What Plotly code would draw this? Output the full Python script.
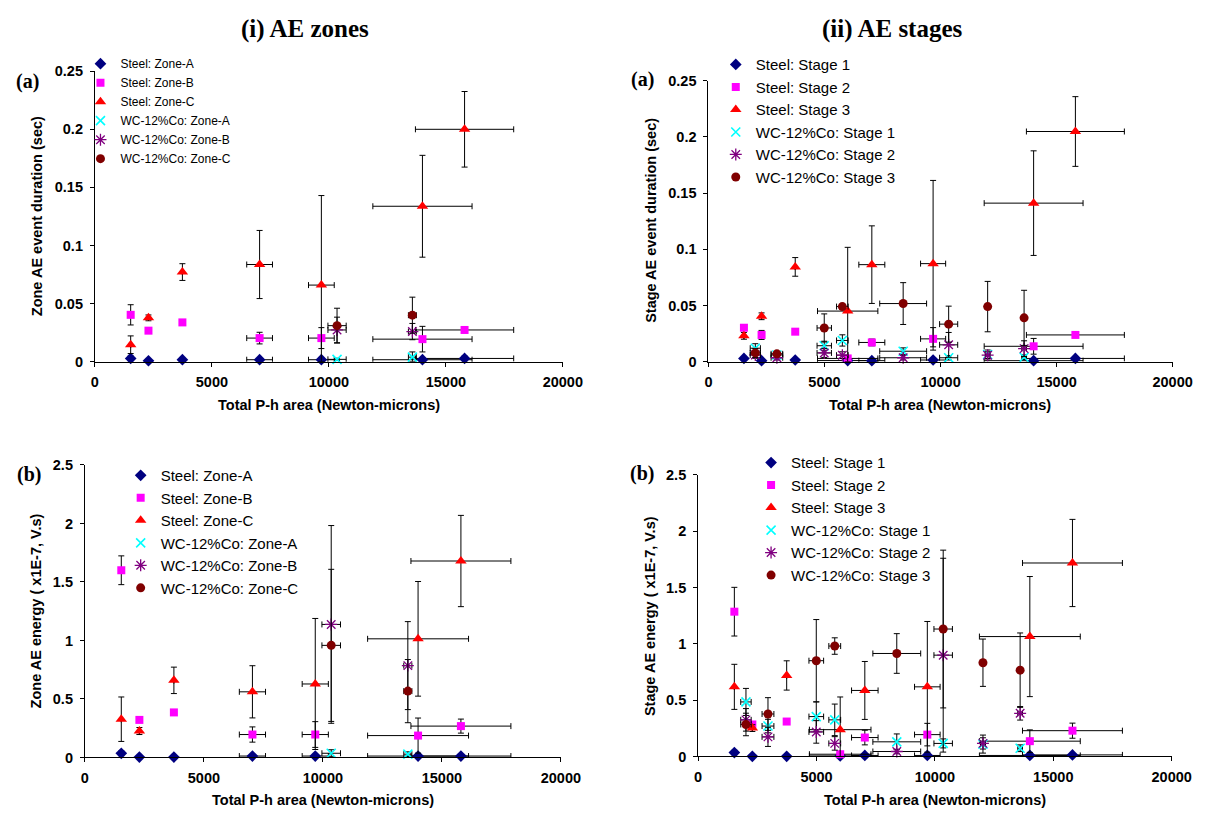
import numpy as np
import plotly.graph_objects as go

# ---------------- data ----------------
# Steel tests (zone analysis)
steel_x_zone = [1530, 2290, 3740, 7040, 9680, 14000, 15800]
steel_xerr_zone = [0, 0, 0, 550, 550, 2120, 2100]
# WC-12%Co tests (zone analysis)
wc_x_zone = [10350, 13570]
wc_xerr_zone = [390, 170]

# (i)(a) zone AE event duration (sec)
dur_steel_A = [0.0028, 0.0008, 0.0017, 0.0017, 0.0017, 0.0017, 0.0028]
dur_steel_A_err = [0.002, 0.001, 0.001, 0.001, 0.001, 0.001, 0.002]
dur_steel_B = [0.0403, 0.0267, 0.0338, 0.0203, 0.0203, 0.0194, 0.0273]
dur_steel_B_err = [0.0087, 0.001, 0.001, 0.005, 0.009, 0.011, 0.002]
dur_steel_C = [0.0146, 0.0377, 0.0771, 0.0836, 0.0659, 0.1337, 0.1999]
dur_steel_C_err = [0.0076, 0.0025, 0.0072, 0.0293, 0.077, 0.0438, 0.0325]
dur_wc_A = [0.0020, 0.0039]
dur_wc_A_err = [0.001, 0.0045]
dur_wc_B = [0.0273, 0.0259]
dur_wc_B_err = [0.011, 0.007]
dur_wc_C = [0.031, 0.040]
dur_wc_C_err = [0.015, 0.0155]

# (i)(b) zone AE energy (x1E-7 V.s)
en_steel_A = [0.035, 0.003, 0.003, 0.012, 0.012, 0.012, 0.012]
en_steel_A_err = [0.02, 0.005, 0.005, 0.01, 0.01, 0.01, 0.01]
en_steel_B = [1.60, 0.321, 0.385, 0.196, 0.196, 0.187, 0.268]
en_steel_B_err = [0.123, 0.01, 0.01, 0.065, 0.11, 0.15, 0.06]
en_steel_C = [0.327, 0.226, 0.659, 0.561, 0.628, 1.014, 1.679]
en_steel_C_err = [0.19, 0.03, 0.113, 0.223, 0.56, 0.49, 0.39]
en_wc_A = [0.036, 0.028]
en_wc_A_err = [0.03, 0.02]
en_wc_B = [1.137, 0.785]
en_wc_B_err = [0.845, 0.376]
en_wc_C = [0.958, 0.567]
en_wc_C_err = [0.65, 0.27]

# Steel tests (stage analysis)
steel_x_stage = [1530, 2290, 3740, 6000, 7040, 9680, 14010, 15810]
steel_xerr_stage = [0, 0, 0, 1300, 560, 540, 2130, 2110]
# WC-12%Co tests (stage analysis)
wc_x_stage = [2020, 2950, 4990, 5770, 8390, 10350, 12030, 13600]
wc_xerr_stage = [220, 250, 310, 250, 1010, 390, 100, 100]

# (ii)(a) stage AE event duration (sec)
dur_s1 = [0.0029, 0.0009, 0.0015, 0.0010, 0.0009, 0.0015, 0.0009, 0.0029]
dur_s1_err = [0.001, 0.001, 0.001, 0.001, 0.001, 0.001, 0.001, 0.001]
dur_s2 = [0.0302, 0.0238, 0.0267, 0.0029, 0.0171, 0.0203, 0.0137, 0.0238]
dur_s2_err = [0.002, 0.004, 0.001, 0.001, 0.003, 0.010, 0.007, 0.002]
dur_s3 = [0.0230, 0.0404, 0.0843, 0.0450, 0.0863, 0.0872, 0.1410, 0.2047]
dur_s3_err = [0.003, 0.003, 0.0083, 0.0567, 0.0345, 0.074, 0.0465, 0.031]
dur_w1 = [0.012, 0.006, 0.0142, 0.0189, 0.0093, 0.0035, 0.0064, 0.004]
dur_w1_err = [0.004, 0.002, 0.004, 0.005, 0.003, 0.002, 0.004, 0.002]
dur_w2 = [0.006, 0.0035, 0.0078, 0.0058, 0.0035, 0.015, 0.0058, 0.0116]
dur_w2_err = [0.003, 0.002, 0.004, 0.003, 0.002, 0.011, 0.003, 0.007]
dur_w3 = [0.0078, 0.007, 0.030, 0.049, 0.0517, 0.0334, 0.049, 0.039]
dur_w3_err = [0.004, 0.002, 0.0125, 0.002, 0.0186, 0.016, 0.0224, 0.0245]

# (ii)(b) stage AE energy (x1E-7 V.s)
en_s1 = [0.035, 0.001, 0.001, 0.005, 0.009, 0.009, 0.009, 0.014]
en_s1_err = [0.02, 0.005, 0.005, 0.005, 0.01, 0.01, 0.01, 0.01]
en_s2 = [1.285, 0.284, 0.310, 0.020, 0.168, 0.194, 0.136, 0.229]
en_s2_err = [0.216, 0.01, 0.01, 0.01, 0.065, 0.10, 0.10, 0.067]
en_s3 = [0.618, 0.252, 0.719, 0.238, 0.586, 0.618, 1.064, 1.717]
en_s3_err = [0.20, 0.03, 0.13, 0.29, 0.257, 0.58, 0.533, 0.387]
en_w1 = [0.484, 0.270, 0.354, 0.325, 0.130, 0.116, 0.110, 0.073]
en_w1_err = [0.12, 0.06, 0.13, 0.14, 0.07, 0.04, 0.08, 0.03]
en_w2 = [0.325, 0.174, 0.218, 0.116, 0.044, 0.899, 0.116, 0.383]
en_w2_err = [0.10, 0.085, 0.10, 0.06, 0.02, 0.86, 0.05, 0.06]
en_w3 = [0.284, 0.377, 0.850, 0.980, 0.914, 1.131, 0.832, 0.766]
en_w3_err = [0.10, 0.145, 0.365, 0.073, 0.176, 0.70, 0.21, 0.33]

zone_names = ["Steel: Zone-A", "Steel: Zone-B", "Steel: Zone-C",
              "WC-12%Co: Zone-A", "WC-12%Co: Zone-B", "WC-12%Co: Zone-C"]
stage_names = ["Steel: Stage 1", "Steel: Stage 2", "Steel: Stage 3",
               "WC-12%Co: Stage 1", "WC-12%Co: Stage 2", "WC-12%Co: Stage 3"]

# ---------------- styling ----------------
W, H = 1225, 824
SANS = "Liberation Sans, Arial, sans-serif"
SERIF = "Liberation Serif, Times New Roman, serif"
AXIS_FONT = 14.5

markers = [
    dict(symbol="diamond", color="#000080", size=9),
    dict(symbol="square", color="#FF00FF", size=8),
    dict(symbol="triangle-up", color="#FF0000", size=10),
    dict(symbol="x-thin-open", color="#00FFFF", size=9, line=dict(color="#00FFFF", width=1.6)),
    dict(symbol="asterisk-open", color="#800080", size=10, line=dict(color="#800080", width=1.3)),
    dict(symbol="circle", color="#800000", size=9),
]

fig = go.Figure()


def add_series(name, x, xerr, y, yerr, k, xa, ya, legend):
    y = np.asarray(y, dtype=float)
    yerr = np.asarray(yerr, dtype=float)
    fig.add_trace(go.Scatter(
        x=x, y=y, mode="markers", name=name, marker=markers[k],
        error_y=dict(type="data", array=yerr, arrayminus=np.minimum(yerr, y),
                     color="black", thickness=1, width=3),
        error_x=dict(type="data", array=xerr, color="black", thickness=1, width=3),
        xaxis=xa, yaxis=ya, legend=legend, legendgroup=f"{legend}-{k}",
        cliponaxis=False,
    ))


# (i)(a)
ia = [(steel_x_zone, steel_xerr_zone, dur_steel_A, dur_steel_A_err),
      (steel_x_zone, steel_xerr_zone, dur_steel_B, dur_steel_B_err),
      (steel_x_zone, steel_xerr_zone, dur_steel_C, dur_steel_C_err),
      (wc_x_zone, wc_xerr_zone, dur_wc_A, dur_wc_A_err),
      (wc_x_zone, wc_xerr_zone, dur_wc_B, dur_wc_B_err),
      (wc_x_zone, wc_xerr_zone, dur_wc_C, dur_wc_C_err)]
for k, (x, xe, y, ye) in enumerate(ia):
    add_series(zone_names[k], x, xe, y, ye, k, "x", "y", "legend")

# (ii)(a)
iia = [(steel_x_stage, steel_xerr_stage, dur_s1, dur_s1_err),
       (steel_x_stage, steel_xerr_stage, dur_s2, dur_s2_err),
       (steel_x_stage, steel_xerr_stage, dur_s3, dur_s3_err),
       (wc_x_stage, wc_xerr_stage, dur_w1, dur_w1_err),
       (wc_x_stage, wc_xerr_stage, dur_w2, dur_w2_err),
       (wc_x_stage, wc_xerr_stage, dur_w3, dur_w3_err)]
for k, (x, xe, y, ye) in enumerate(iia):
    add_series(stage_names[k], x, xe, y, ye, k, "x2", "y2", "legend3")

# (i)(b)
ib = [(steel_x_zone, steel_xerr_zone, en_steel_A, en_steel_A_err),
      (steel_x_zone, steel_xerr_zone, en_steel_B, en_steel_B_err),
      (steel_x_zone, steel_xerr_zone, en_steel_C, en_steel_C_err),
      (wc_x_zone, wc_xerr_zone, en_wc_A, en_wc_A_err),
      (wc_x_zone, wc_xerr_zone, en_wc_B, en_wc_B_err),
      (wc_x_zone, wc_xerr_zone, en_wc_C, en_wc_C_err)]
for k, (x, xe, y, ye) in enumerate(ib):
    add_series(zone_names[k], x, xe, y, ye, k, "x3", "y3", "legend2")

# (ii)(b)
iib = [(steel_x_stage, steel_xerr_stage, en_s1, en_s1_err),
       (steel_x_stage, steel_xerr_stage, en_s2, en_s2_err),
       (steel_x_stage, steel_xerr_stage, en_s3, en_s3_err),
       (wc_x_stage, wc_xerr_stage, en_w1, en_w1_err),
       (wc_x_stage, wc_xerr_stage, en_w2, en_w2_err),
       (wc_x_stage, wc_xerr_stage, en_w3, en_w3_err)]
for k, (x, xe, y, ye) in enumerate(iib):
    add_series(stage_names[k], x, xe, y, ye, k, "x4", "y4", "legend4")


def px_x(p):
    return p / W


def px_y(p):
    return 1 - p / H


tick_font = dict(family=SANS, size=AXIS_FONT, color="black", weight="bold")


def xaxis(left, right, anchor):
    return dict(domain=[px_x(left), px_x(right)], anchor=anchor, range=[0, 20000],
                dtick=5000, tickformat="d", showline=True, linecolor="black",
                linewidth=1, ticks="outside", ticklen=4, tickcolor="black",
                ticklabelstandoff=3,
                showgrid=False, zeroline=False, tickfont=tick_font, fixedrange=True)


def yaxis(bottom, top, anchor, ymax, dtick):
    return dict(domain=[px_y(bottom), px_y(top)], anchor=anchor, range=[0, ymax],
                dtick=dtick, showline=True, linecolor="black", linewidth=1,
                ticks="outside", ticklen=4, tickcolor="black", ticklabelstandoff=4,
                showgrid=False, zeroline=False, tickfont=tick_font, fixedrange=True)


def legend_box(left, top, size):
    return dict(x=px_x(left), y=px_y(top), xanchor="left", yanchor="top",
                bgcolor="rgba(0,0,0,0)", borderwidth=0, tracegroupgap=0,
                font=dict(family=SANS, size=size, color="black"))


annotations = []


def text(s, x, y, size, family, angle=0):
    annotations.append(dict(text=s, x=px_x(x), y=px_y(y), xref="paper", yref="paper",
                            showarrow=False, xanchor="center", yanchor="middle",
                            textangle=angle,
                            font=dict(family=family, size=size, color="black",
                                      weight="bold")))


text("(i) AE zones", 307, 21, 25, SERIF)
text("(ii) AE stages", 906, 21, 25, SERIF)
text("(a)", 24, 75, 20, SERIF)
text("(b)", 25, 476, 20, SERIF)
text("(a)", 651, 73, 20, SERIF)
text("(b)", 651, 475, 20, SERIF)
text("Zone AE event duration (sec)", 34, 212, AXIS_FONT, SANS, -90)
text("Stage AE event duration (sec)", 660, 217, AXIS_FONT, SANS, -90)
text("Zone AE energy ( x1E-7, V.s)", 33, 615, AXIS_FONT, SANS, -90)
text("Stage AE energy ( x1E-7, V.s)", 659, 620, AXIS_FONT, SANS, -90)
text("Total P-h area (Newton-microns)", 331, 405, AXIS_FONT, SANS)
text("Total P-h area (Newton-microns)", 955, 405, AXIS_FONT, SANS)
text("Total P-h area (Newton-microns)", 325, 808, AXIS_FONT, SANS)
text("Total P-h area (Newton-microns)", 950, 808, AXIS_FONT, SANS)

fig.update_layout(
    width=W, height=H, margin=dict(l=0, r=0, t=0, b=0),
    paper_bgcolor="white", plot_bgcolor="white",
    xaxis=xaxis(92.7, 570, "y"),
    yaxis=yaxis(360.7, 64.3, "x", 0.25, 0.05),
    xaxis2=xaxis(718.5, 1192, "y2"),
    yaxis2=yaxis(360.7, 74, "x2", 0.25, 0.05),
    xaxis3=xaxis(82.5, 568, "y3"),
    yaxis3=yaxis(764.3, 466, "x3", 2.5, 0.5),
    xaxis4=xaxis(708, 1191, "y4"),
    yaxis4=yaxis(763.3, 476, "x4", 2.5, 0.5),
    legend=legend_box(78, 42, 12),
    legend2=legend_box(119, 460, 15),
    legend3=legend_box(726, 41, 15),
    legend4=legend_box(762, 447, 15),
    annotations=annotations,
    showlegend=True,
)

fig.write_html("out.html")
